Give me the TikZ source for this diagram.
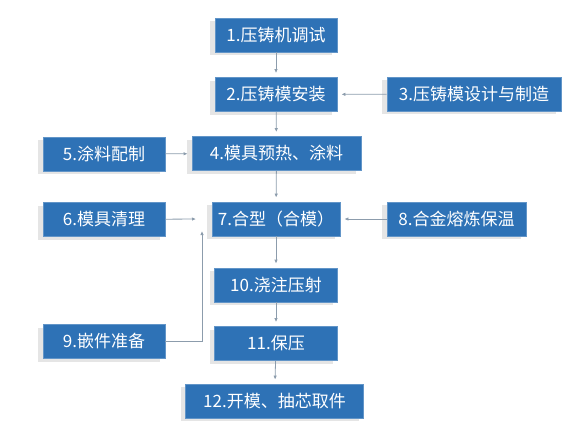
\documentclass[tikz,border=0pt]{standalone}
\usepackage{fontspec}
\setmainfont{Noto Sans CJK SC}
\usetikzlibrary{arrows.meta,shadows}
\definecolor{stepblue}{RGB}{46,114,182}
\definecolor{linkgray}{RGB}{140,156,172}
\tikzset{
	stepbox/.style={rectangle, fill=stepblue, draw=stepblue!75!white, line width=0.8pt,
		text=white, minimum height=34pt, inner sep=0pt,
		font=\fontsize{17}{20}\selectfont,
		general shadow={fill=black, opacity=0.10, shadow xshift=-5pt, shadow yshift=-3pt}},
	link/.style={draw=linkgray, line width=0.8pt, -{Latex[length=4pt,width=3.5pt]}, shorten >=4pt}
}

\begin{document}
\begin{tikzpicture}[x=1pt, y=-1pt]
		%%%%% START %%%%%
		\useasboundingbox (0, 0) rectangle (575, 429);
		
		\node[stepbox, minimum width=122pt] (mtest) at (276, 35) {1.压铸机调试};
		\node[stepbox, minimum width=122pt] (mmount) at (276, 94.5) {2.压铸模安装};
		\node[stepbox, minimum width=174pt] (mdesign) at (474, 94) {3.压铸模设计与制造};
		\node[stepbox, minimum width=169pt] (mheat) at (276.5, 153.5) {4.模具预热、涂料};
		\node[stepbox, minimum width=122pt] (paint) at (104, 154) {5.涂料配制};
		\node[stepbox, minimum width=122pt] (mclean) at (104, 219.5) {6.模具清理};
		\node[stepbox, minimum width=128pt] (mclose) at (276, 219) {7.合型（合模）};
		\node[stepbox, minimum width=139pt] (alloy) at (456.5, 219) {8.合金熔炼保温};
		\node[stepbox, minimum width=122pt] (insert) at (104, 341.5) {9.嵌件准备};
		\node[stepbox, minimum width=123pt] (pour) at (276, 285) {10.浇注压射};
		\node[stepbox, minimum width=123pt] (hold) at (276, 343.5) {11.保压};
		\node[stepbox, minimum width=178pt] (mopen) at (274.5, 401) {12.开模、抽芯取件};
		
		\coordinate (cleanend) at (200, 219);
		\coordinate (insertend) at (202, 227);
		
		\draw[link] (mtest) -- (mmount);
		\draw[link] (mmount) -- (mheat);
		\draw[link] (mdesign) -- (mmount);
		\draw[link] (paint) -- (mheat);
		\draw[link] (mheat) -- (mclose);
		\draw[link] (alloy) -- (mclose);
		\draw[link] (mclose) -- (pour);
		\draw[link] (pour) -- (hold);
		\draw[link] (hold) -- (mopen);
		\draw[link] (mclean) -- (cleanend);
		\draw[link] (insert) -| (insertend);
		%%%%% END %%%%%
	\end{tikzpicture}
\end{document}
